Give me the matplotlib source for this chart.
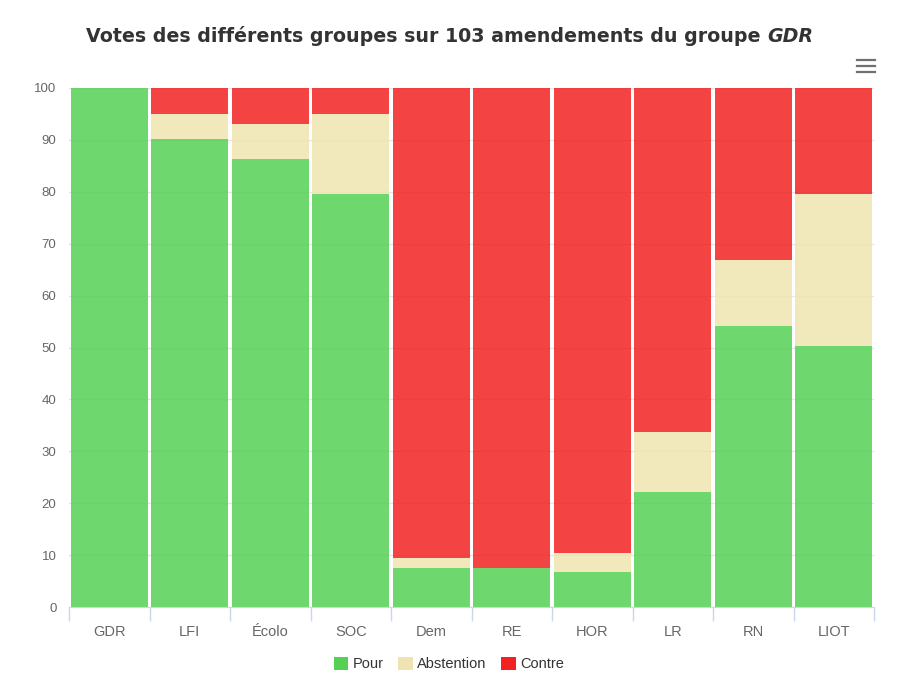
import numpy as np
import matplotlib.pyplot as plt
from matplotlib.patches import Patch
from matplotlib.lines import Line2D

plt.rcParams['font.family'] = ['Liberation Sans', 'DejaVu Sans']

# Données
groupes = ['GDR', 'LFI', 'Écolo', 'SOC', 'Dem', 'RE', 'HOR', 'LR', 'RN', 'LIOT']
pour = [100, 90.2, 86.3, 79.5, 7.6, 7.6, 6.7, 22.1, 54.2, 50.3]
abstention = [0, 4.8, 6.8, 15.5, 1.9, 0, 3.8, 11.7, 12.6, 29.2]
contre = [100 - p - a for p, a in zip(pour, abstention)]

couleurs = {'Pour': '#55d055', 'Abstention': '#efe4b0', 'Contre': '#f22222'}

W, H = 898, 693
fig = plt.figure(figsize=(W / 100, H / 100), dpi=100)
ax = fig.add_axes([69 / W, (H - 607) / H, 805 / W, 519 / H])

x = np.arange(len(groupes))
bas = np.zeros(len(groupes))
for nom, vals in [('Pour', pour), ('Abstention', abstention), ('Contre', contre)]:
    ax.bar(x, vals, bottom=bas, width=0.955, color=couleurs[nom], alpha=0.85,
           linewidth=0, zorder=3)
    bas += np.array(vals)

ax.set_xlim(-0.5, len(groupes) - 0.5)
ax.set_ylim(0, 100)
ax.set_yticks(range(0, 101, 10))
ax.yaxis.grid(True, color='#e6e6e6', linewidth=1, zorder=0)
ax.set_axisbelow(False)
for s in ['top', 'right', 'left']:
    ax.spines[s].set_visible(False)
ax.spines['bottom'].set_color('#ccd6eb')
ax.spines['bottom'].set_zorder(5)
ax.tick_params(axis='y', length=0, labelsize=9.5, labelcolor='#666666', pad=9)
ax.set_xticks(x)
ax.set_xticklabels(groupes)
ax.tick_params(axis='x', length=0, labelsize=10.5, labelcolor='#666666', pad=13)
# traits entre les catégories
ax.set_xticks(np.arange(-0.5, len(groupes)), minor=True)
ax.tick_params(axis='x', which='minor', length=10, color='#ccd6eb', width=1)

# titre, ajusté à la largeur de la référence
titre = 'Votes des différents groupes sur 103 amendements du groupe '
ty = (H - 36) / H
t1 = fig.text(86 / W, ty, titre, ha='left', va='center', fontsize=14,
              fontweight='bold', color='#333333', family='DejaVu Sans')
t2 = fig.text(0, ty, 'GDR', ha='left', va='center', fontsize=14,
              fontweight='bold', fontstyle='italic', color='#333333', family='DejaVu Sans')
fig.canvas.draw()
r = fig.canvas.get_renderer()
w = t1.get_window_extent(r).width + t2.get_window_extent(r).width
fs = 14 * 729 / w
t1.set_fontsize(fs)
t2.set_fontsize(fs)
fig.canvas.draw()
t2.set_x(t1.get_window_extent(r).x1 / W)

# icône menu
for yy in [60, 66, 72]:
    fig.add_artist(Line2D([857 / W, 875 / W], [(H - yy) / H] * 2, color='#707070',
                          linewidth=1.6, transform=fig.transFigure))

handles = [Patch(facecolor=couleurs[n], edgecolor='none', label=n) for n in couleurs]
leg = fig.legend(handles=handles, loc='center', bbox_to_anchor=(0.5, (H - 664) / H),
                 ncol=3, frameon=False, fontsize=10.5, handlelength=1, handleheight=1,
                 handletextpad=0.3, columnspacing=1.0)
for t in leg.get_texts():
    t.set_color('#333333')

fig.savefig('out.png', dpi=100, facecolor='white')
